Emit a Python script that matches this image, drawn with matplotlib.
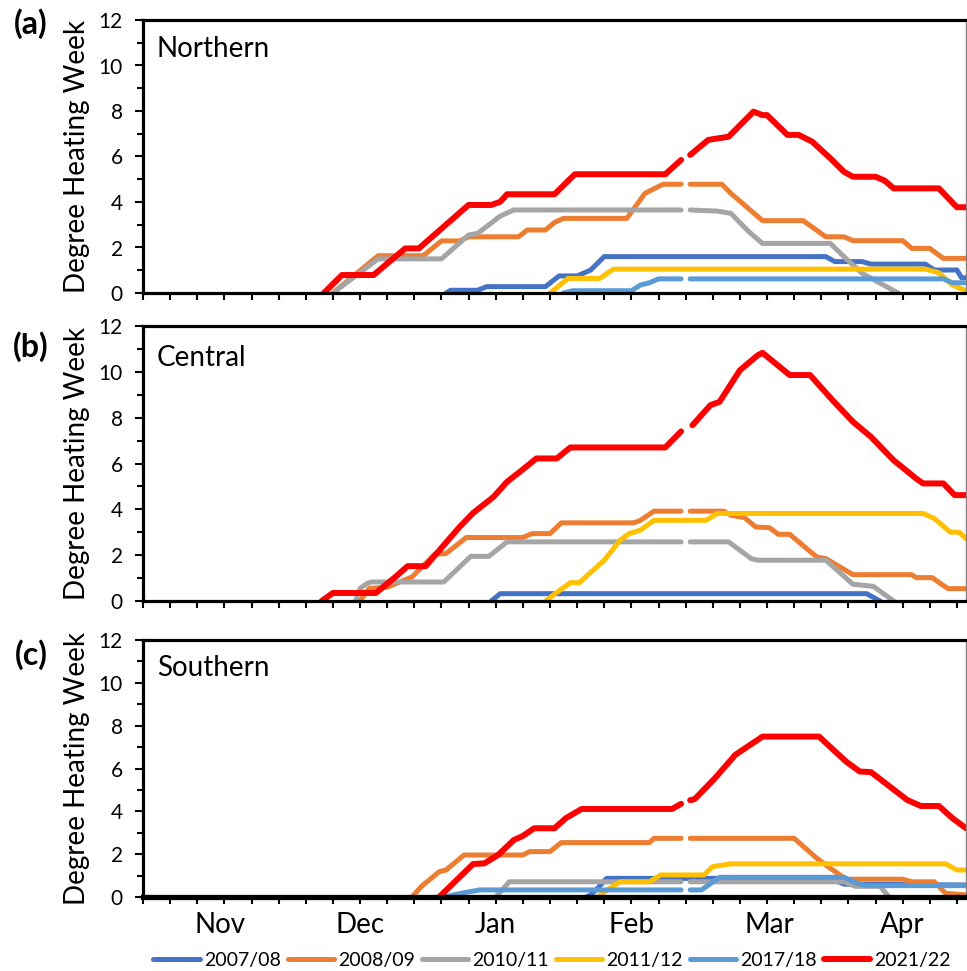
import numpy as np
import matplotlib
matplotlib.use("Agg")
import matplotlib.pyplot as plt
import matplotlib.transforms as mtransforms

plt.rcParams['font.family'] = ['Lato', 'DejaVu Sans']

nan = np.nan

# seasons / colours (legend order)
seasons = ['2007/08', '2008/09', '2010/11', '2011/12', '2017/18', '2021/22']
colors = ['#4472C4', '#ED7D31', '#A5A5A5', '#FFC000', '#5B9BD5', '#FF0000']

# x = day of season (day 0 = 1 Nov); nan = 29 Feb in non-leap seasons
# ---- (a) Northern ----
north_0708_x = [67, 68, 74, 76, 89, 92, 96, 99, 102, 151, 153, 159, 161, 173, 175, 180, 181, 182]
north_0708_y = [0, 0.12, 0.12, 0.28, 0.28, 0.75, 0.75, 1.01, 1.6, 1.6, 1.38, 1.38, 1.27, 1.27, 1.01, 1.01, 0.67, 0.67]
north_0809_x = [42, 52, 62, 66, 70, 72, 83, 85, 89, 91, 93, 107, 111, 115, 119, 120, 121, 128, 130, 137,
                146, 151, 155, 157, 168, 170, 174, 177, 182]
north_0809_y = [0, 1.64, 1.64, 2.29, 2.29, 2.47, 2.47, 2.77, 2.77, 3.1, 3.28, 3.28, 4.38, 4.78, 4.78, nan,
                4.78, 4.78, 4.38, 3.18, 3.18, 2.47, 2.47, 2.3, 2.3, 1.96, 1.96, 1.52, 1.52]
north_1011_x = [42, 52, 66, 72, 74, 79, 82, 119, 120, 121, 127, 130, 134, 137, 152, 155, 159, 163, 167]
north_1011_y = [0, 1.5, 1.5, 2.55, 2.62, 3.38, 3.65, 3.65, nan, 3.65, 3.6, 3.5, 2.69, 2.18, 2.18, 1.6, 0.87, 0.43, 0]
north_1112_x = [90, 94, 101, 104, 173, 176, 179, 182]
north_1112_y = [0, 0.64, 0.64, 1.05, 1.05, 0.89, 0.35, 0.1]
north_1718_x = [93, 95, 108, 110, 112, 114, 119, 120, 121, 177, 179, 182]
north_1718_y = [0, 0.1, 0.1, 0.35, 0.45, 0.62, 0.62, nan, 0.62, 0.62, 0.45, 0.45]
north_2122_x = [40, 44, 51, 58, 61, 72, 77, 79, 80.5, 91, 95.5, 115.5, 119, 120, 121, 125, 129.5, 135, 137,
                138, 142.5, 145, 148, 152, 155, 157, 162, 164, 166, 176, 180, 182]
north_2122_y = [0, 0.79, 0.79, 1.96, 1.96, 3.87, 3.87, 4.01, 4.34, 4.34, 5.22, 5.22, 5.85, nan, 6.07, 6.73,
                6.87, 7.97, 7.82, 7.82, 6.95, 6.95, 6.65, 5.92, 5.33, 5.11, 5.11, 4.94, 4.6, 4.6, 3.77, 3.77]

# ---- (b) Central ----
central_0708_x = [77, 79, 160, 163]
central_0708_y = [0, 0.32, 0.32, 0]
central_0809_x = [48, 50, 54, 59.5, 64.5, 67, 71.5, 84, 86, 90, 92.5, 108.5, 110, 113, 119, 120, 121, 128.5,
                  130, 133, 135.5, 138.5, 140.5, 143, 149, 151, 157, 170, 171, 174.5, 178, 182]
central_0809_y = [0, 0.55, 0.6, 1.05, 2.04, 2.07, 2.77, 2.77, 2.94, 2.94, 3.41, 3.41, 3.52, 3.92, 3.92, nan,
                  3.92, 3.92, 3.74, 3.64, 3.23, 3.2, 2.91, 2.91, 1.92, 1.85, 1.15, 1.15, 1.02, 1.02, 0.54, 0.54]
central_1011_x = [47, 48, 49.5, 50.5, 66.5, 72.5, 76.5, 80.5, 119, 120, 121, 129.5, 134.5, 136, 151, 157, 161.5, 166]
central_1011_y = [0, 0.55, 0.76, 0.83, 0.83, 1.95, 1.95, 2.58, 2.58, nan, 2.58, 2.58, 1.85, 1.78, 1.78, 0.73, 0.64, 0]
central_1112_x = [89, 91, 94.5, 96.5, 102, 105.5, 107.5, 110, 113, 124.5, 127, 172.5, 175, 178.5, 180.5, 182]
central_1112_y = [0, 0.3, 0.8, 0.8, 1.78, 2.65, 2.94, 3.09, 3.52, 3.52, 3.82, 3.82, 3.6, 3.01, 3.0, 2.72]
central_1718_x = []
central_1718_y = []
central_2122_x = [39.5, 42, 51.5, 56, 58.5, 62.5, 70, 73, 77.5, 80.5, 84, 87, 91.5, 94.5, 115.5, 119, 120,
                  121.5, 125.5, 127.5, 132, 136, 137, 143, 147.5, 152.5, 157, 161, 166, 171, 172.5, 177, 179.5, 182]
central_2122_y = [0, 0.35, 0.35, 1.08, 1.52, 1.52, 3.23, 3.84, 4.54, 5.2, 5.74, 6.22, 6.22, 6.7, 6.7, 7.4, nan,
                  7.67, 8.55, 8.69, 10.07, 10.73, 10.83, 9.86, 9.86, 8.76, 7.82, 7.16, 6.14, 5.34, 5.13, 5.13,
                  4.62, 4.62]

# ---- (c) Southern ----
south_0708_x = [98, 99, 100.5, 102.5, 152, 155, 182]
south_0708_y = [0, 0.1, 0.4, 0.87, 0.87, 0.6, 0.56]
south_0809_x = [59.5, 61.5, 65.5, 67, 71, 84, 85.5, 90, 92.5, 112, 113, 119, 120, 121, 144, 149, 152, 155.5,
                168, 170, 175, 177.5, 182]
south_0809_y = [0, 0.48, 1.18, 1.26, 1.96, 1.96, 2.12, 2.12, 2.54, 2.54, 2.74, 2.74, nan, 2.74, 2.74, 1.81,
                1.34, 0.83, 0.83, 0.71, 0.71, 0.17, 0.1]
south_1011_x = [78, 81, 119, 120, 121, 155, 157.5, 163, 165]
south_1011_y = [0, 0.71, 0.71, nan, 0.71, 0.71, 0.5, 0.5, 0]
south_1112_x = [100.5, 102.5, 105.5, 112, 114.5, 124, 126, 130, 177.5, 180, 182]
south_1112_y = [0, 0.3, 0.71, 0.71, 1.03, 1.03, 1.42, 1.55, 1.55, 1.26, 1.26]
south_1718_x = [66.5, 71, 74.5, 119, 120, 121, 123.5, 127.5, 155, 158, 160, 182]
south_1718_y = [0, 0.2, 0.33, 0.33, nan, 0.33, 0.33, 0.92, 0.92, 0.64, 0.53, 0.53]
south_2122_x = [65.5, 73, 75.5, 78.5, 82, 84, 86.5, 91, 93.5, 97, 117, 119, 120, 121, 122, 126.5, 131, 137,
                149.5, 155.5, 158.5, 161, 169, 172, 176, 179, 182]
south_2122_y = [0, 1.54, 1.57, 1.96, 2.66, 2.85, 3.21, 3.21, 3.68, 4.11, 4.11, 4.35, nan, 4.52, 4.57, 5.55,
                6.64, 7.49, 7.49, 6.32, 5.86, 5.83, 4.53, 4.25, 4.25, 3.68, 3.21]

panel_tags = ['(a)', '(b)', '(c)']
regions = ['Northern', 'Central', 'Southern']
months = ['Nov', 'Dec', 'Jan', 'Feb', 'Mar', 'Apr']
month_pos = [17, 48, 78, 108, 138.5, 168]

panels = [
    [(north_0708_x, north_0708_y), (north_0809_x, north_0809_y), (north_1011_x, north_1011_y),
     (north_1112_x, north_1112_y), (north_1718_x, north_1718_y), (north_2122_x, north_2122_y)],
    [(central_0708_x, central_0708_y), (central_0809_x, central_0809_y), (central_1011_x, central_1011_y),
     (central_1112_x, central_1112_y), (central_1718_x, central_1718_y), (central_2122_x, central_2122_y)],
    [(south_0708_x, south_0708_y), (south_0809_x, south_0809_y), (south_1011_x, south_1011_y),
     (south_1112_x, south_1112_y), (south_1718_x, south_1718_y), (south_2122_x, south_2122_y)],
]

fig = plt.figure(figsize=(9.67, 9.71), dpi=100)
W, H = 967, 971
# axes boxes in pixels: (left, top, right, bottom)
boxes = [(143, 20, 966, 293), (143, 326, 966, 601), (143, 640, 966, 897)]
tag_y = [24, 347, 655]
text_y = [0.895, 0.885, 0.89]

axes = []
for i, (l, t, r, b) in enumerate(boxes):
    ax = fig.add_axes([l / W, 1 - b / H, (r - l) / W, (b - t) / H])
    axes.append(ax)
    for j, (xs, ys) in enumerate(panels[i]):
        lw = 4.3 if j == 5 else 3.6
        ax.plot(xs, ys, color=colors[j], lw=lw, label=seasons[j],
                solid_capstyle='round', solid_joinstyle='round')
    ax.set_xlim(0, 182)
    ax.set_ylim(0, 12)
    ax.set_yticks(np.arange(0, 13, 2))
    ax.set_yticks(np.arange(1, 12, 2), minor=True)
    ax.set_xticks(np.arange(0, 181, 6))
    ax.set_xticklabels([])
    ax.tick_params(axis='y', which='major', length=5.5, width=1.5, pad=9, labelsize=15, color='black')
    ax.tick_params(axis='y', which='minor', length=4.3, width=1.5)
    ax.tick_params(axis='x', which='major', length=5, width=1.5)
    for s in ['left', 'top', 'bottom']:
        ax.spines[s].set_linewidth(2.3)
        ax.spines[s].set_color('black')
    ax.spines['right'].set_linewidth(1.0)
    ax.spines['right'].set_color('#808080')
    ax.set_ylabel('Degree Heating Week', fontsize=20)
    ax.yaxis.set_label_coords(-0.064, 0.5)
    ax.text(0.017, text_y[i], regions[i], transform=ax.transAxes, fontsize=20, va='center', ha='left')
    fig.text(31 / W, 1 - tag_y[i] / H, panel_tags[i], fontsize=23, fontweight='bold', ha='center', va='center')

# month names under the bottom panel
ax = axes[2]
ax.spines['bottom'].set_linewidth(3.8)
trans = mtransforms.blended_transform_factory(ax.transData, ax.transAxes)
for m, pos in zip(months, month_pos):
    ax.text(pos, -0.108, m, transform=trans, fontsize=20, ha='center', va='center')

handles, labels = axes[0].get_legend_handles_labels()
fig.legend(handles, labels, loc='center', bbox_to_anchor=(552 / W, 1 - 960 / H), ncol=6, frameon=False,
           fontsize=14, handlelength=2.4, handletextpad=0.2, columnspacing=0.35,
           borderpad=0.1, borderaxespad=0.1)

fig.savefig('out.png', dpi=100)
